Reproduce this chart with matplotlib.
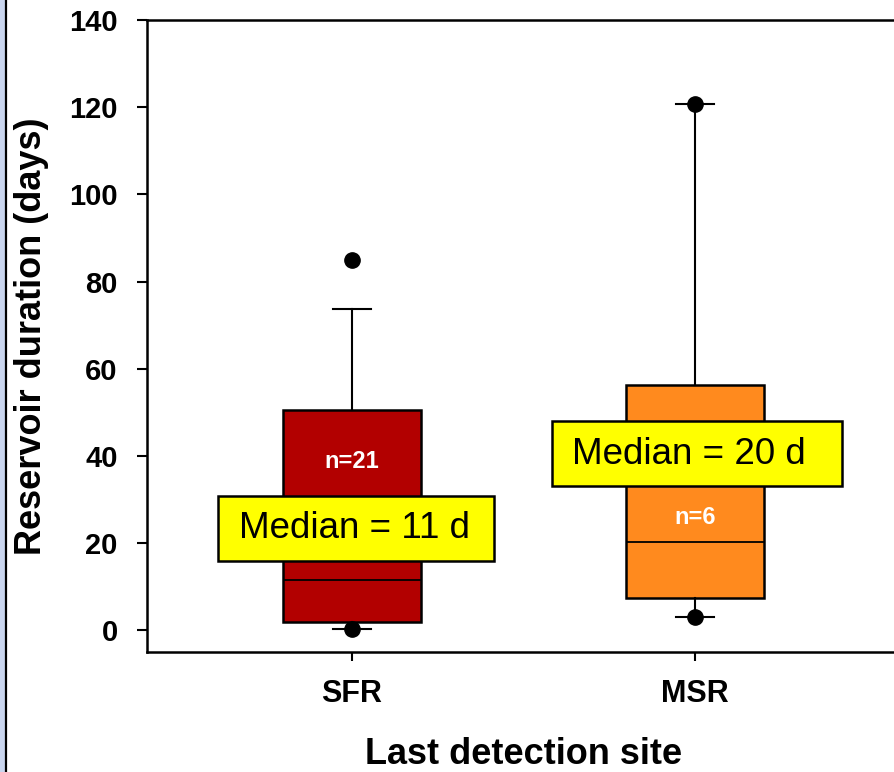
import matplotlib.pyplot as plt
from matplotlib.patches import Rectangle
from matplotlib.lines import Line2D

plt.rcParams['font.family'] = ['Liberation Sans', 'DejaVu Sans']

# box statistics (days)
sites = ["SFR", "MSR"]
q1 = [1.8, 7.3]
medians = [11.5, 20.2]
q3 = [50.5, 56.2]
whisker_low = [0.3, 3.0]
whisker_high = [73.7, 120.7]
outliers = [[0.3, 85.0], [3.0, 120.7]]
counts = [21, 6]
median_labels = ["Median = 11 d", "Median = 20 d"]
box_colors = ["#b20000", "#ff8a1e"]

fig = plt.figure(figsize=(8.95, 7.72), dpi=100)
ax = fig.add_axes([147 / 895, 1 - 652 / 772, (895 - 147) / 895, (652 - 20) / 772])

stats = []
for i in range(len(sites)):
    stats.append(dict(label=sites[i], q1=q1[i], med=medians[i], q3=q3[i],
                      whislo=whisker_low[i], whishi=whisker_high[i],
                      fliers=outliers[i]))

bp = ax.bxp(stats, positions=[1, 2], widths=0.405, patch_artist=True,
            showfliers=True,
            boxprops=dict(linewidth=1.8, edgecolor="black"),
            medianprops=dict(color="black", linewidth=1.3),
            whiskerprops=dict(color="black", linewidth=1.5),
            capprops=dict(color="black", linewidth=1.5),
            flierprops=dict(marker="o", markerfacecolor="black",
                            markeredgecolor="black", markersize=11))
for patch, col in zip(bp["boxes"], box_colors):
    patch.set_facecolor(col)
for cap in bp["caps"]:
    x0, x1 = cap.get_xdata()
    xm = (x0 + x1) / 2
    cap.set_xdata([xm - 0.056, xm + 0.056])

ax.set_xlim(1 - 205 / 343, 2 + 200 / 343)
ax.set_ylim(-5, 140)
ax.set_yticks([0, 20, 40, 60, 80, 100, 120, 140])
ax.set_xticks([1, 2])
ax.set_xticklabels(sites)
ax.spines["right"].set_visible(False)
for s in ["left", "top", "bottom"]:
    ax.spines[s].set_linewidth(1.8)
ax.tick_params(axis="both", direction="out", width=1.5)
ax.tick_params(axis="y", length=7, pad=14, labelsize=21)
ax.tick_params(axis="x", length=6.5, pad=13, labelsize=22)
for lab in ax.get_xticklabels() + ax.get_yticklabels():
    lab.set_fontweight("bold")

ax.set_ylabel("Reservoir duration (days)", fontsize=26, fontweight="bold")
ax.set_xlabel("Last detection site", fontsize=26, fontweight="bold")
ax.yaxis.label.set_va("center")
ax.xaxis.label.set_va("center")
ax.yaxis.set_label_coords((32 - 147) / 748, 0.5)
ax.xaxis.set_label_coords((524 - 147) / 748, (652 - 755) / 632)

# n labels inside the boxes
ax.text(1, 38.8, "n=%d" % counts[0], color="white", fontsize=17,
        fontweight="bold", ha="center", va="center")
ax.text(2, 25.8, "n=%d" % counts[1], color="white", fontsize=17,
        fontweight="bold", ha="center", va="center")

# yellow median boxes
ax.add_patch(Rectangle((0.609, 15.8), 0.805, 15.0, facecolor="#ffff00",
                       edgecolor="black", linewidth=1.8, zorder=5))
ax.text(1.007, 23.4, median_labels[0], fontsize=26.5, ha="center", va="center",
        zorder=6)
ax.add_patch(Rectangle((1.583, 33.0), 0.846, 15.0, facecolor="#ffff00",
                       edgecolor="black", linewidth=1.8, zorder=5))
ax.text(1.982, 40.4, median_labels[1], fontsize=26.5, ha="center", va="center",
        zorder=6)

# left frame strip
fig.patches.append(Rectangle((0, 0), 5 / 895, 1, transform=fig.transFigure,
                             facecolor="#c9d5ee", edgecolor="none"))
fig.lines.append(Line2D([6 / 895, 6 / 895], [0, 1], transform=fig.transFigure,
                        color="black", linewidth=1.6))

fig.savefig("out.png", dpi=100)
